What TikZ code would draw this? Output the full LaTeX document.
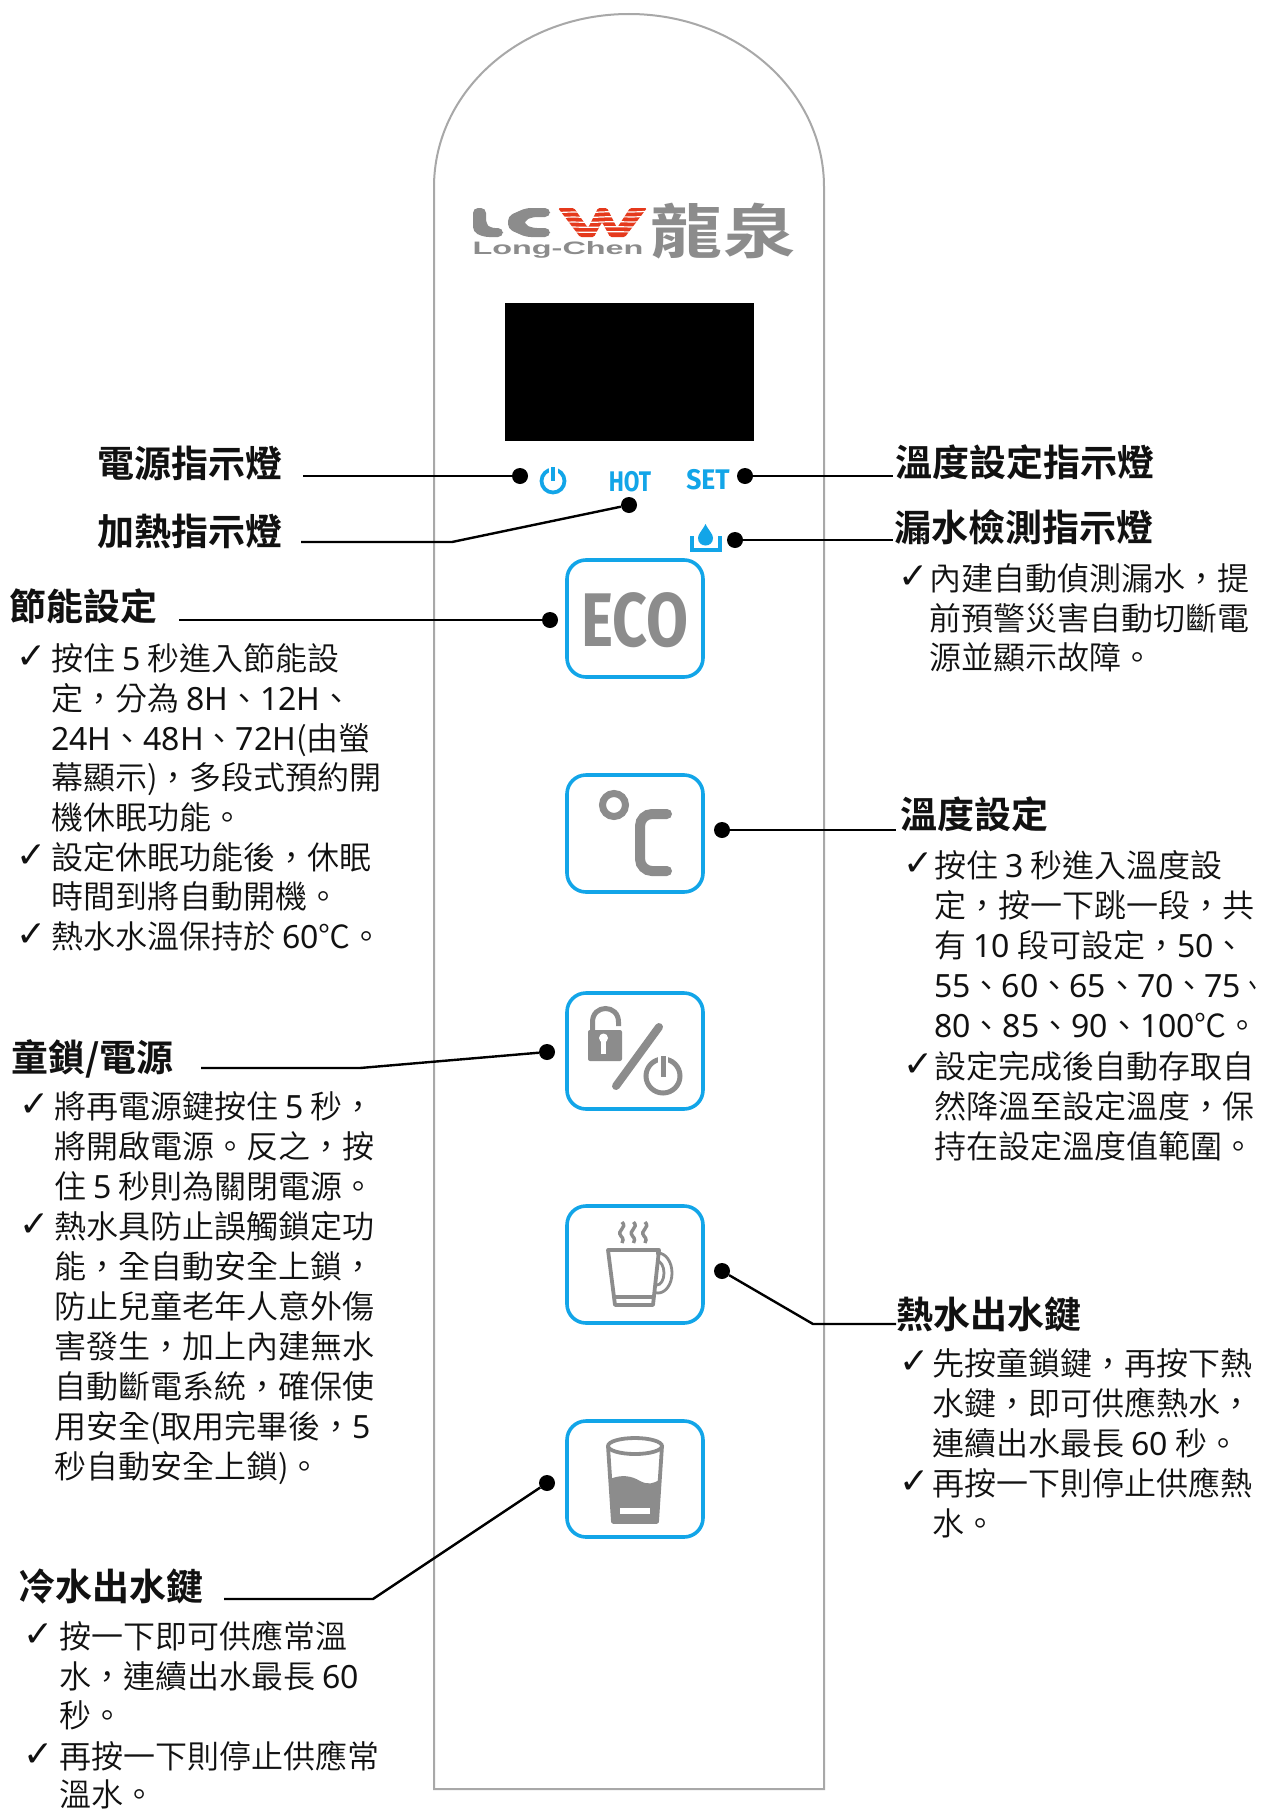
\documentclass[tikz,border=0pt]{standalone}
\usepackage{fontspec}
\setmainfont{Noto Sans CJK TC DemiLight}[BoldFont={Noto Sans CJK TC Bold}]
\newfontfamily\latf{Noto Sans}
\newfontfamily\markf{DejaVu Sans}
\newfontfamily\firaf{Fira Sans}
\newfontfamily\logof{Liberation Sans}
\newcommand\la[1]{{\latf #1}}
\definecolor{txtc}{HTML}{111111}
\definecolor{blu}{HTML}{12A5E8}
\definecolor{gry}{HTML}{8C8C8C}
\definecolor{pan}{HTML}{A8A8A8}
\definecolor{redl}{HTML}{E5391C}
\tikzset{
  x=1pt,y=-1pt,
  body/.style={anchor=west,inner sep=0pt,text=txtc,font=\fontsize{32}{32}\selectfont,text height=28pt,text depth=4pt},
  head/.style={anchor=west,inner sep=0pt,text=txtc,font=\fontsize{37}{37}\selectfont\bfseries,text height=33pt,text depth=4pt},
  chk/.style={anchor=center,inner sep=0pt,text=txtc,xshift=2pt,yshift=-3pt,font=\fontsize{36}{36}\selectfont\markf},
  dotn/.style={circle,fill=black,inner sep=0pt,minimum size=16pt},
  conn/.style={draw=black,line width=2.4pt},
  btn/.style={draw=blu,line width=3.6pt,rounded corners=19pt,fill=white},
  bluetxt/.style={inner sep=0pt,text=blu,font=\fontsize{27}{27}\selectfont\firaf\bfseries},
}
\newcommand\tl[4]{\node[body] (#1) at (#2,#3) {#4};}
\newcommand\ck[3]{\node[chk] (#1) at (#2,#3) {✓};}
\begin{document}
\begin{tikzpicture}
\useasboundingbox (0,0) rectangle (1270,1809);
\fill[white] (0,0) rectangle (1270,1809);
% panel
\draw[pan,line width=2pt] (434,187) .. controls (434,91) and (521,14) .. (629,14)
  .. controls (737,14) and (824,91) .. (824,187) -- (824,1789) -- (434,1789) -- cycle;
% logo
\fill[gry,rounded corners=5pt] (473,208) -- (486,208) -- (486,224) -- (490,228) -- (503,228) -- (503,237) -- (484,237) -- (473,232) -- cycle;
\fill[gry,rounded corners=5pt] (550,208) -- (526,208) -- (508,216) -- (508,229) -- (526,237) -- (550,237) -- (550,228) -- (532,228) -- (524,224) -- (524,221) -- (532,217) -- (550,217) -- cycle;
\fill[redl,rounded corners=1.5pt] (558,208) -- (574,208) -- (588,228) -- (598,208) -- (607,208) -- (617,228) -- (630,208) -- (647,208) -- (625,237) -- (610,237) -- (602,222) -- (594,237) -- (580,237) -- cycle;
\foreach \yy in {212,217,222,227,232}{\draw[white,line width=1.2pt] (555,\yy+1) .. controls (575,\yy-1) and (580,\yy+1) .. (602,\yy) .. controls (620,\yy-1) and (630,\yy+1) .. (650,\yy-1);}
\node[inner sep=0pt,text=gry,anchor=center] (logotxt) at (558,250) {\fontsize{18}{18}\logof\bfseries\scalebox{1.8}[1]{Long-Chen}};
\node[inner sep=0pt,text=gry,anchor=center] (logocjk) at (723,231) {\fontsize{70}{70}\selectfont\bfseries\scalebox{1.03}[.84]{龍泉}};
% screen
\fill[black] (505,303) rectangle (754,441);
% small indicators
\draw[blu,line width=3.8pt] (553,481) circle (11.5);
\draw[white,line width=9pt] (553,465) -- (553,478);
\draw[blu,line width=4pt] (553,467) -- (553,481);
\node[bluetxt] (hot) at (630,482) {\scalebox{.84}[1.05]{HOT}};
\node[bluetxt] (set) at (708,480) {\scalebox{.98}[1.05]{SET}};
\draw[blu,line width=3.2pt] (692,536) -- (692,550) -- (720,550) -- (720,536);
\fill[blu] (705.5,524) .. controls (702,531) and (698,534) .. (698,538) .. controls (698,548) and (713,548) .. (713,538) .. controls (713,534) and (709,531) .. (705.5,524) -- cycle;
% buttons
\node[btn,minimum width=136pt,minimum height=117pt,inner sep=0pt] (beco) at (635,618.5) {};
\node[btn,minimum width=136pt,minimum height=117pt,inner sep=0pt] (btmp) at (635,833.5) {};
\node[btn,minimum width=136pt,minimum height=116pt,inner sep=0pt] (block) at (635,1051) {};
\node[btn,minimum width=136pt,minimum height=117pt,inner sep=0pt] (bcup) at (635,1264.5) {};
\node[btn,minimum width=136pt,minimum height=116pt,inner sep=0pt] (bgls) at (635,1479) {};
\node[inner sep=0pt,text=gry] (eco) at (635,620) {\fontsize{76}{76}\firaf\bfseries\scalebox{.8}[1]{ECO}};
% degree C
\draw[gry,line width=7pt] (614,805) circle (11.5);
\draw[gry,line width=10pt,line cap=round,rounded corners=12pt] (667,814) -- (640,814) -- (640,871) -- (667,871);
% lock
\fill[gry,rounded corners=2pt] (588,1030) rectangle (622,1061);
\draw[gry,line width=5pt] (592.5,1032) -- (592.5,1022) .. controls (592.5,1004) and (618.5,1004) .. (618.5,1022) -- (618.5,1026);
\fill[white] (603.5,1038) circle (4.5);
\draw[white,line width=4.5pt] (603.5,1038) -- (603.5,1054);
\draw[gry,line width=8pt,line cap=round] (616,1086) -- (659,1027);
\draw[gry,line width=5pt] (663,1076) circle (17);
\draw[white,line width=10pt] (663,1055) -- (663,1070);
\draw[gry,line width=5pt] (663,1056) -- (663,1077);
% cup
\foreach \xx in {622,633.5,645}{\draw[gry,line width=3.4pt] (\xx,1222) .. controls (\xx+6,1228) and (\xx-6,1230) .. (\xx-1,1236) .. controls (\xx+2,1239) and (\xx+1,1241) .. (\xx,1243);}
\draw[gry,line width=2.8pt] (658,1273) ellipse (14 and 20);
\draw[gry,line width=2.8pt] (657,1273) ellipse (7 and 12);
\fill[white] (640,1250) rectangle (656,1300);
\draw[gry,line width=3.8pt,line join=round] (608,1250) -- (659,1250) -- (653,1305) -- (615,1305) -- cycle;
\draw[gry,line width=3.2pt] (614,1297) -- (654,1297);
% glass
\fill[gry] (610,1479) .. controls (622,1474) and (632,1476) .. (640,1481) .. controls (648,1485) and (654,1484) .. (660,1479) -- (657,1522) -- (613,1522) -- cycle;
\fill[white] (620,1508) rectangle (650,1514);
\draw[gry,line width=3.8pt,line join=round] (608,1446) -- (613,1522) -- (657,1522) -- (662,1446);
\draw[gry,line width=3.8pt] (635,1446) ellipse (27 and 8);
% dots
\node[dotn] (dpow) at (520,476) {};
\node[dotn] (dhot) at (629,505) {};
\node[dotn] (dset) at (745,476) {};
\node[dotn] (dwat) at (735,540) {};
\node[dotn] (deco) at (550,620) {};
\node[dotn] (dtmp) at (722,830) {};
\node[dotn] (dlck) at (547,1052) {};
\node[dotn] (dcup) at (722,1271) {};
\node[dotn] (dgls) at (547,1483) {};
% connector ends
\coordinate (epow) at (303,476);
\coordinate (ehot) at (301,542);
\coordinate (khot) at (452,542);
\coordinate (eset) at (893,476);
\coordinate (ewat) at (893,540);
\coordinate (eeco) at (179,620);
\coordinate (etmp) at (896,830);
\coordinate (elck) at (201,1068);
\coordinate (klck) at (360,1068);
\coordinate (ecup) at (896,1324);
\coordinate (kcup) at (813,1324);
\coordinate (egls) at (224,1599);
\coordinate (kgls) at (373,1599);
\draw[conn] (epow) -- (dpow);
\draw[conn] (ehot) -- (khot) -- (dhot);
\draw[conn] (dset) -- (eset);
\draw[conn] (dwat) -- (ewat);
\draw[conn] (eeco) -- (deco);
\draw[conn] (dtmp) -- (etmp);
\draw[conn] (elck) -- (klck) -- (dlck);
\draw[conn] (dcup) -- (kcup) -- (ecup);
\draw[conn] (egls) -- (kgls) -- (dgls);
% headings
\node[head] (h1) at (97,463) {電源指示燈};
\node[head] (h2) at (97,531) {加熱指示燈};
\node[head] (h3) at (895,462) {溫度設定指示燈};
\node[head] (h4) at (894,527) {漏水檢測指示燈};
\node[head] (h5) at (9,606) {節能設定};
\node[head] (h6) at (900,814) {溫度設定};
\node[head] (h7) at (11,1057) {童鎖/電源};
\node[head] (h8) at (896,1314) {熱水出水鍵};
\node[head] (h9) at (18,1586) {冷水出水鍵};
% water list
\ck{c1}{912}{574}
\tl{a1}{929}{578}{內建自動偵測漏水，提}
\tl{a2}{929}{618}{前預警災害自動切斷電}
\tl{a3}{929}{657}{源並顯示故障。}
% eco list
\ck{c2}{30}{654}
\tl{b1}{51}{658}{按住 \la{5} 秒進入節能設}
\tl{b2}{51}{698}{定，分為 \la{8H}、\la{12H}、}
\tl{b3}{51}{738}{\la{24H}、\la{48H}、\la{72H}(由螢}
\tl{b4}{51}{777}{幕顯示)，多段式預約開}
\tl{b5}{51}{817}{機休眠功能。}
\ck{c3}{30}{853}
\tl{b6}{51}{857}{設定休眠功能後，休眠}
\tl{b7}{51}{896}{時間到將自動開機。}
\ck{c4}{30}{932}
\tl{b8}{51}{936}{熱水水溫保持於 \la{60}℃。}
% temp list
\ck{c5}{917}{861}
\tl{d1}{934}{865}{按住 \la{3} 秒進入溫度設}
\tl{d2}{934}{905}{定，按一下跳一段，共}
\tl{d3}{934}{945}{有 \la{10} 段可設定，\la{50}、}
\tl{d4}{934}{985}{\la{55}、\kern-1pt\la{60}、\kern-1pt\la{65}、\kern-1pt\la{70}、\kern-1pt\la{75}\scalebox{.72}[1]{、}}
\tl{d5}{934}{1025}{\la{80}、\la{85}、\la{90}、\la{100}℃。}
\ck{c6}{917}{1062}
\tl{d6}{934}{1066}{設定完成後自動存取自}
\tl{d7}{934}{1106}{然降溫至設定溫度，保}
\tl{d8}{934}{1146}{持在設定溫度值範圍。}
% lock list
\ck{c7}{33}{1102}
\tl{e1}{54}{1106}{將再電源鍵按住 \la{5} 秒，}
\tl{e2}{54}{1146}{將開啟電源。反之，按}
\tl{e3}{54}{1186}{住 \la{5} 秒則為關閉電源。}
\ck{c8}{33}{1222}
\tl{e4}{54}{1226}{熱水具防止誤觸鎖定功}
\tl{e5}{54}{1266}{能，全自動安全上鎖，}
\tl{e6}{54}{1306}{防止兒童老年人意外傷}
\tl{e7}{54}{1346}{害發生，加上內建無水}
\tl{e8}{54}{1386}{自動斷電系統，確保使}
\tl{e9}{54}{1426}{用安全(取用完畢後，\la{5}}
\tl{e10}{54}{1466}{秒自動安全上鎖)。}
% cup list
\ck{c9}{913}{1359}
\tl{f1}{932}{1363}{先按童鎖鍵，再按下熱}
\tl{f2}{932}{1403}{水鍵，即可供應熱水，}
\tl{f3}{932}{1443}{連續出水最長 \la{60} 秒。}
\ck{c10}{913}{1479}
\tl{f4}{932}{1483}{再按一下則停止供應熱}
\tl{f5}{932}{1523}{水。}
% glass list
\ck{c11}{37}{1632}
\tl{g1}{59}{1636}{按一下即可供應常溫}
\tl{g2}{59}{1676}{水，連續出水最長 \la{60}}
\tl{g3}{59}{1715}{秒。}
\ck{c12}{37}{1752}
\tl{g4}{59}{1756}{再按一下則停止供應常}
\tl{g5}{59}{1794}{溫水。}
\end{tikzpicture}
\end{document}
